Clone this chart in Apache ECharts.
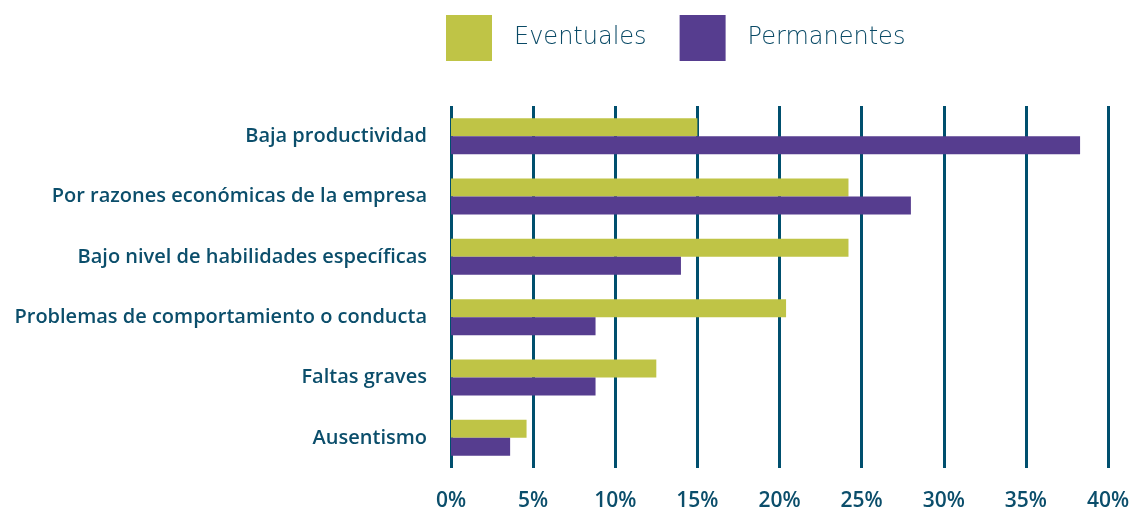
<!DOCTYPE html>
<html><head><meta charset="utf-8">
<script src="https://cdn.jsdelivr.net/npm/echarts@6/dist/echarts.min.js"></script>
<style>html,body{margin:0;padding:0;background:#fff}#c{width:1138px;height:512px}</style>
</head><body><div id="c"></div>
<script>
const categories = ["Baja productividad","Por razones económicas de la empresa","Bajo nivel de habilidades específicas","Problemas de comportamiento o conducta","Faltas graves","Ausentismo"];
const eventuales = [15.0, 24.2, 24.2, 20.4, 12.5, 4.6];
const permanentes = [38.3, 28.0, 14.0, 8.8, 8.8, 3.6];
const seriesNames = ["Eventuales","Permanentes"];
const textColor = "#0b4e6b";
const chart = echarts.init(document.getElementById('c'));
chart.setOption({
  animation:false,
  legend:{
    data:seriesNames, top:15, left:446, padding:0, itemWidth:46, itemHeight:46, itemGap:33,
    icon:'rect',
    textStyle:{color:'#0a4a66', fontSize:24, fontFamily:'DejaVu Sans', fontWeight:200, padding:[2,0,0,17]}
  },
  grid:{left:451, right:30, top:106, bottom:40, containLabel:false},
  xAxis:{
    type:'value', min:0, max:40, interval:5,
    axisLine:{show:false}, axisTick:{show:false},
    axisLabel:{formatter:'{value}%', color:textColor, fontSize:21, fontFamily:'Open Sans', fontWeight:600, margin:23},
    splitLine:{show:true, lineStyle:{color:'#004f6e', width:3}}
  },
  yAxis:{
    type:'category', data:categories, inverse:true,
    axisLine:{show:false}, axisTick:{show:false},
    axisLabel:{color:textColor, fontSize:20, fontFamily:'Open Sans', fontWeight:600, margin:24, padding:[0,0,4,0]}
  },
  series:[
    {name:seriesNames[0], type:'bar', data:eventuales, barWidth:18, barGap:'0%', itemStyle:{color:'#bfc446'}},
    {name:seriesNames[1], type:'bar', data:permanentes, barWidth:18, barGap:'0%', itemStyle:{color:'#563d8f'}}
  ]
});
</script></body></html>
